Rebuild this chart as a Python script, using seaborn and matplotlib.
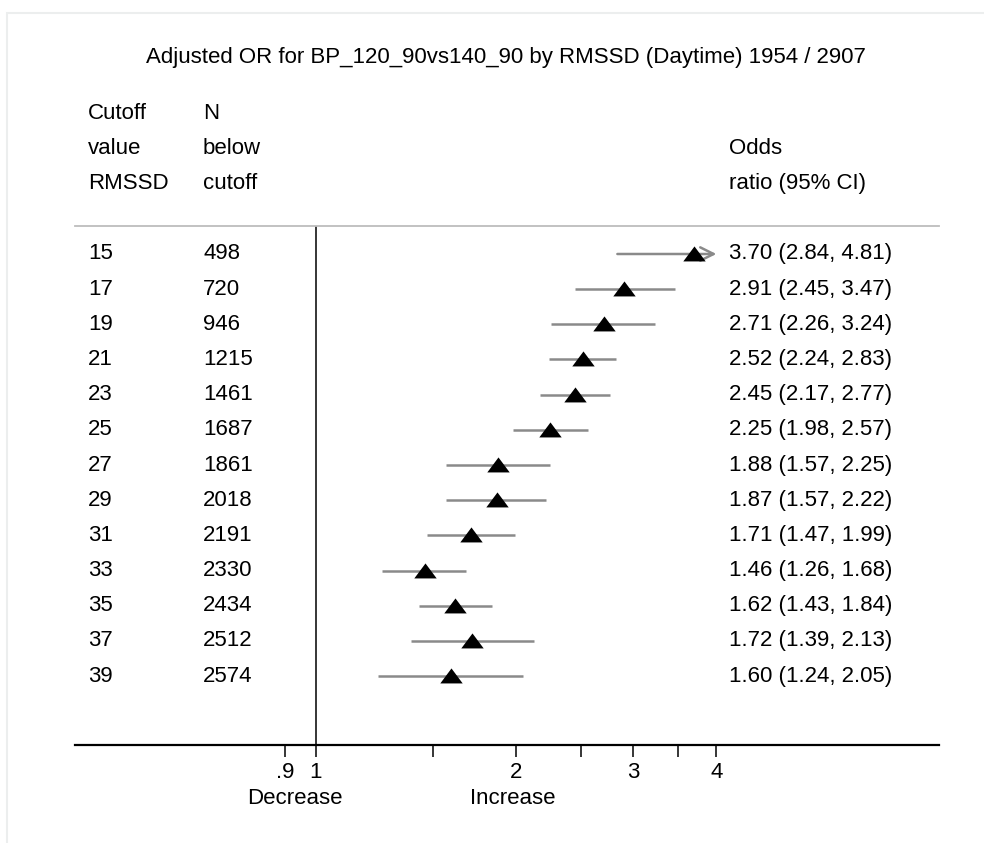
import numpy as np
import pandas as pd
import matplotlib
matplotlib.use("Agg")
import matplotlib.pyplot as plt
import matplotlib.transforms as mtransforms
from matplotlib.patches import Rectangle
import seaborn as sns

# Values
cutoffs = [15, 17, 19, 21, 23, 25, 27, 29, 31, 33, 35, 37, 39]
n_below = [498, 720, 946, 1215, 1461, 1687, 1861, 2018, 2191, 2330, 2434, 2512, 2574]
odds = [3.70, 2.91, 2.71, 2.52, 2.45, 2.25, 1.88, 1.87, 1.71, 1.46, 1.62, 1.72, 1.60]
ci_low = [2.84, 2.45, 2.26, 2.24, 2.17, 1.98, 1.57, 1.57, 1.47, 1.26, 1.43, 1.39, 1.24]
ci_high = [4.81, 3.47, 3.24, 2.83, 2.77, 2.57, 2.25, 2.22, 1.99, 1.68, 1.84, 2.13, 2.05]
tick_vals = [0.9, 1, 1.5, 2, 2.5, 3, 3.5, 4]
tick_labels = ['.9', '1', '', '2', '', '3', '', '4']
title = "Adjusted OR for BP_120_90vs140_90 by RMSSD (Daytime) 1954 / 2907"
clip_max = 4.0

df = pd.DataFrame({'cutoff': cutoffs, 'n': n_below, 'or': odds,
                   'lo': ci_low, 'hi': ci_high})
df['row'] = np.arange(len(df))

sns.set_style("white")
plt.rcParams['font.family'] = ['Liberation Sans', 'DejaVu Sans']
plt.rcParams['text.color'] = 'black'
plt.rcParams['xtick.color'] = 'black'
plt.rcParams['xtick.labelcolor'] = 'black'
fs = 16

W, H = 984, 843
fig = plt.figure(figsize=(W / 100, H / 100), dpi=100)

# light frame like the screenshot
fig.patches.append(Rectangle((7 / W, -0.1), 1.2, 1 - 13 / H + 0.1,
                             transform=fig.transFigure, fill=False,
                             edgecolor='#eceeee', linewidth=1.5))

ax_left, ax_right, ax_top, ax_bottom = 75, 939, 226, 745
ax = fig.add_axes([ax_left / W, 1 - ax_bottom / H,
                   (ax_right - ax_left) / W, (ax_bottom - ax_top) / H])
ax.set_xscale('log')
ax.set_xlim(0.435, 8.64)
row_px = 35.17
ax.set_ylim(12 + (ax_bottom - 676) / row_px, -(254 - ax_top) / row_px)

# confidence intervals
gray = '#8a8a8a'
for _, r in df.iterrows():
    if r['hi'] > clip_max:
        ax.annotate('', xy=(clip_max, r['row']), xytext=(r['lo'], r['row']),
                    arrowprops=dict(arrowstyle='->', color=gray, lw=1.8,
                                    mutation_scale=24, shrinkA=0, shrinkB=0))
    else:
        ax.plot([r['lo'], r['hi']], [r['row'], r['row']], color=gray,
                lw=1.8, solid_capstyle='butt', zorder=2)

ax.axvline(1, color='black', lw=1.1, zorder=1)

tri = [(-1, -0.62), (1, -0.62), (0, 0.72)]
sns.scatterplot(data=df, x='or', y='row', marker=tri, s=260, color='black',
                edgecolor='black', linewidth=0, zorder=3, ax=ax, legend=False)

# spines / ticks
for s in ['left', 'right']:
    ax.spines[s].set_visible(False)
ax.spines['top'].set_color('#bdbdbd')
ax.spines['top'].set_linewidth(1.3)
ax.spines['bottom'].set_color('black')
ax.spines['bottom'].set_linewidth(1.6)
ax.set_yticks([])
ax.set_xticks(tick_vals)
ax.set_xticklabels(tick_labels, fontsize=fs, color='black')
ax.xaxis.set_minor_locator(matplotlib.ticker.NullLocator())
ax.tick_params(axis='x', direction='out', length=8.5, width=1.1,
               color='black', labelcolor='black', pad=4, bottom=True)
ax.set_xlabel('')
ax.set_ylabel('')

# table text
tr = mtransforms.blended_transform_factory(ax.transAxes, ax.transData)
x_cut = (88 - ax_left) / (ax_right - ax_left)
x_n = (203 - ax_left) / (ax_right - ax_left)
x_or = (729 - ax_left) / (ax_right - ax_left)
headers = [('Cutoff', 'N', ''), ('value', 'below', 'Odds'),
           ('RMSSD', 'cutoff', 'ratio (95% CI)')]
for i, (a, b, c) in enumerate(headers):
    y = -4 + i
    for x, t in [(x_cut, a), (x_n, b), (x_or, c)]:
        ax.text(x, y, t, transform=tr, fontsize=fs, va='center', ha='left',
                color='black', clip_on=False)
for _, r in df.iterrows():
    ax.text(x_cut, r['row'], f"{int(r['cutoff'])}", transform=tr, fontsize=fs,
            va='center', ha='left', color='black')
    ax.text(x_n, r['row'], f"{int(r['n'])}", transform=tr, fontsize=fs,
            va='center', ha='left', color='black')
    ax.text(x_or, r['row'], f"{r['or']:.2f} ({r['lo']:.2f}, {r['hi']:.2f})",
            transform=tr, fontsize=fs, va='center', ha='left', color='black')

# direction labels
trx = mtransforms.blended_transform_factory(ax.transData, fig.transFigure)
ax.text(0.93, 1 - 799 / H, 'Decrease', transform=trx, fontsize=fs,
        ha='center', va='center', color='black')
ax.text(1.975, 1 - 799 / H, 'Increase', transform=trx, fontsize=fs,
        ha='center', va='center', color='black')

fig.text(506 / W, 1 - 58 / H, title, fontsize=fs, ha='center', va='center',
         color='black')

fig.savefig('out.png', dpi=100)
